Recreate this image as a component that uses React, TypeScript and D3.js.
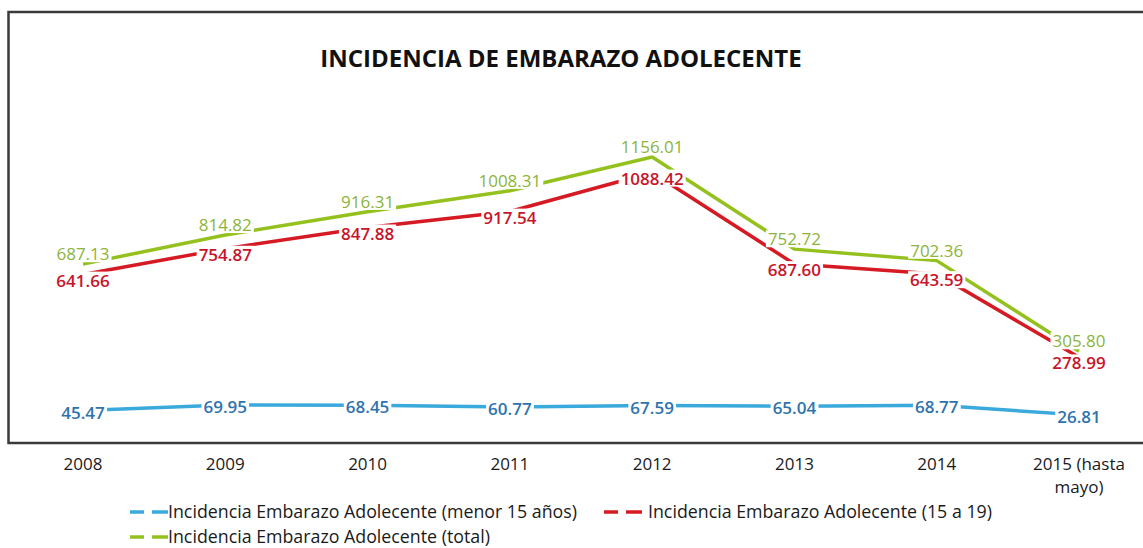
import React, { useEffect, useRef } from "react";
import * as d3 from "d3";

const categories = ["2008", "2009", "2010", "2011", "2012", "2013", "2014", "2015 (hasta mayo)"];
const categoryLines = [["2008"], ["2009"], ["2010"], ["2011"], ["2012"], ["2013"], ["2014"], ["2015 (hasta", "mayo)"]];
const menor15 = [45.47, 69.95, 68.45, 60.77, 67.59, 65.04, 68.77, 26.81];
const de15a19 = [641.66, 754.87, 847.88, 917.54, 1088.42, 687.6, 643.59, 278.99];
const total = [687.13, 814.82, 916.31, 1008.31, 1156.01, 752.72, 702.36, 305.8];
const seriesNames = [
  "Incidencia Embarazo Adolecente (menor 15 años)",
  "Incidencia Embarazo Adolecente (15 a 19)",
  "Incidencia Embarazo Adolecente (total)",
];
const title = "INCIDENCIA DE EMBARAZO ADOLECENTE";

const W = 1143;
const H = 548;
const FONT = "'Open Sans', sans-serif";

export default function App() {
  const ref = useRef<SVGSVGElement | null>(null);

  useEffect(() => {
    const svg = d3.select(ref.current);
    svg.selectAll("*").remove();

    const x = d3.scalePoint<string>().domain(categories).range([83, 1079]);
    const y = d3.scaleLinear().domain([0, 1200]).range([421, 147]);

    // frame
    svg.append("rect")
      .attr("x", 8.5).attr("y", 12).attr("width", 1150).attr("height", 431)
      .attr("fill", "none").attr("stroke", "#3a3a3a").attr("stroke-width", 2.5);

    svg.append("text")
      .attr("x", 561).attr("y", 67)
      .attr("text-anchor", "middle")
      .attr("font-family", FONT).attr("font-weight", 700).attr("font-size", 24)
      .attr("fill", "#111")
      .text(title);

    const series = [
      { name: seriesNames[0], values: menor15, line: "#3aa9dc", label: "#2f73ae", weight: 600, off: 2 },
      { name: seriesNames[1], values: de15a19, line: "#d51a24", label: "#c8152a", weight: 600, off: 6 },
      { name: seriesNames[2], values: total, line: "#95c11f", label: "#8cb43a", weight: 500, off: -10 },
    ];

    const lineGen = d3.line<number>()
      .x((_, i) => x(categories[i]) as number)
      .y((d) => y(d));

    const gLines = svg.append("g");
    const gLabels = svg.append("g");

    series.forEach((s) => {
      gLines.append("path")
        .attr("d", lineGen(s.values) as string)
        .attr("fill", "none")
        .attr("stroke", s.line)
        .attr("stroke-width", 3.5)
        .attr("stroke-linejoin", "round");
    });

    series.forEach((s) => {
      s.values.forEach((v, i) => {
        const g = gLabels.append("g");
        const t = g.append("text")
          .attr("x", x(categories[i]) as number)
          .attr("y", y(v) + s.off)
          .attr("dy", "0.36em")
          .attr("text-anchor", "middle")
          .attr("font-family", FONT)
          .attr("font-weight", s.weight)
          .attr("font-size", 17)
          .attr("fill", s.label)
          .text(d3.format(".2f")(v));
        const bb = (t.node() as SVGTextElement).getBBox();
        g.insert("rect", "text")
          .attr("x", bb.x - 2).attr("y", bb.y + 3)
          .attr("width", bb.width + 4).attr("height", bb.height - 6)
          .attr("fill", "#fff");
      });
    });

    // x axis labels
    categoryLines.forEach((lines, i) => {
      const t = svg.append("text")
        .attr("x", x(categories[i]) as number)
        .attr("y", 470)
        .attr("text-anchor", "middle")
        .attr("font-family", FONT).attr("font-size", 17)
        .attr("fill", "#1a1a1a");
      lines.forEach((l, j) => {
        t.append("tspan").attr("x", x(categories[i]) as number).attr("dy", j === 0 ? 0 : 23).text(l);
      });
    });

    // legend
    const legendItems = [
      { s: series[0], dx: 130, tx: 168, ty: 512 },
      { s: series[1], dx: 604, tx: 648, ty: 512 },
      { s: series[2], dx: 130, tx: 168, ty: 537 },
    ];
    legendItems.forEach((it) => {
      svg.append("line")
        .attr("x1", it.dx).attr("x2", it.dx + 14)
        .attr("y1", it.ty).attr("y2", it.ty)
        .attr("stroke", it.s.line).attr("stroke-width", 3.5);
      svg.append("line")
        .attr("x1", it.dx + 22).attr("x2", it.dx + 38)
        .attr("y1", it.ty).attr("y2", it.ty)
        .attr("stroke", it.s.line).attr("stroke-width", 3.5);
      svg.append("text")
        .attr("x", it.tx).attr("y", it.ty).attr("dy", "0.35em")
        .attr("font-family", FONT).attr("font-size", 17.8)
        .attr("fill", "#1a1a1a")
        .text(it.s.name);
    });
  }, []);

  return (
    <svg
      ref={ref}
      width={W}
      height={H}
      style={{ position: "absolute", left: 0, top: 0, background: "#fff", display: "block" }}
    />
  );
}
